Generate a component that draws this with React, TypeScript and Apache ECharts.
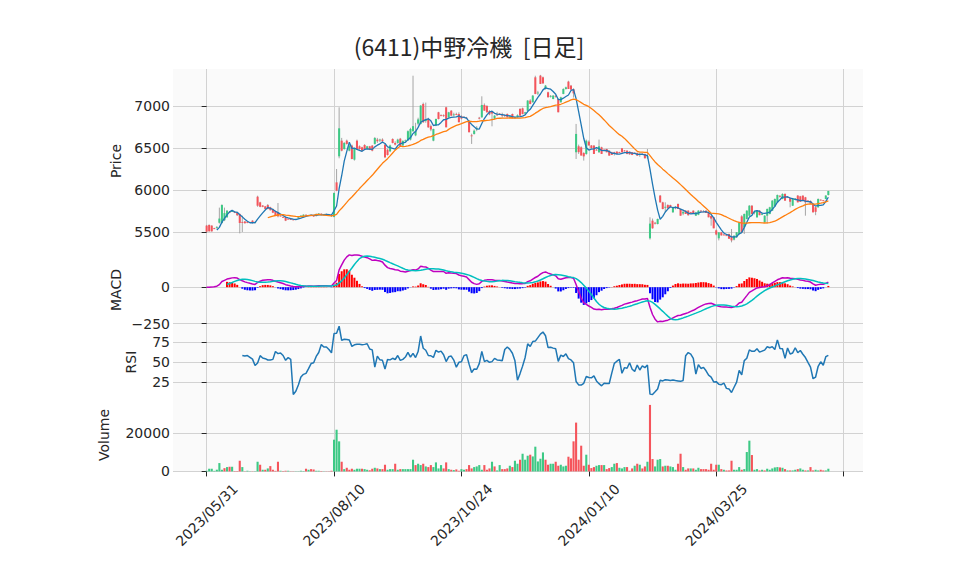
import React, { useEffect, useRef } from 'react';
import * as echarts from 'echarts';

const OPEN = [
  5576,5584,5576,5545,5550,5610,5607,5640,5675,5740,
  5745,5740,5730,5714,5620,5625,5620,5618,5635,5612,
  5920,5853,5815,5805,5821,5794,5774,5750,5734,5695,
  5680,5675,5658,5655,5650,5650,5665,5690,5675,5705,
  5700,5700,5695,5690,5712,5718,5700,5712,5705,5700,
  5680,6091,6401,6587,6488,6587,6468,6528,6361,6587,
  6520,6508,6536,6488,6520,6528,6548,6600,6590,6600,
  6540,6480,6460,6607,6560,6560,6610,6530,6585,6590,
  6600,6700,6650,6790,6786,7024,6820,6845,6760,6587,
  6766,6925,6890,6890,6984,6865,6944,6890,6905,6905,
  6880,6870,6860,6825,6650,6667,6720,6860,6865,7012,
  7000,6940,6930,6850,6900,6910,6900,6890,6905,6870,
  6905,6860,6870,6964,6972,6910,6944,7064,7044,7341,
  7150,7361,7341,7202,7163,7110,7083,7120,7083,7044,
  7143,7202,7290,7242,7200,6449,6520,6508,6440,6429,
  6575,6530,6528,6480,6450,6508,6480,6488,6468,6449,
  6449,6457,6452,6496,6470,6468,6457,6449,6444,6441,
  6420,6432,6429,6390,5425,5635,5610,5595,5933,5853,
  5790,5821,5821,5734,5790,5833,5774,5720,5754,5754,
  5736,5754,5694,5705,5754,5745,5754,5742,5690,5675,
  5520,5425,5496,5470,5462,5476,5440,5409,5437,5476,
  5686,5556,5655,5694,5813,5730,5675,5754,5710,5615,
  5694,5714,5754,5806,5853,5930,5893,5953,5915,5900,
  5813,5895,5933,5925,5933,5913,5875,5870,5833,5794,
  5794,5885,5878,5893,5940,
];
const HIGH = [
  5585,5590,5580,5550,5570,5790,5830,5790,5760,5750,
  5760,5745,5740,5720,5694,5630,5625,5622,5640,5625,
  5932,5860,5820,5810,5833,5800,5780,5755,5845,5700,
  5685,5680,5660,5660,5655,5660,5680,5700,5710,5710,
  5705,5710,5700,5720,5725,5722,5715,5720,5710,5705,
  5970,6250,6984,6620,6570,6600,6535,6540,6500,6600,
  6530,6515,6545,6525,6525,6535,6630,6620,6610,6615,
  6550,6490,6540,6615,6580,6610,6620,6590,6600,6710,
  6740,7360,6800,6860,7010,7040,7040,6860,6780,6730,
  6850,6930,6900,6900,6990,6930,6950,6920,6920,6925,
  6890,6880,6870,6830,6670,6720,6760,6870,7115,7030,
  7010,6950,6940,6890,6930,6915,6920,6900,6910,6890,
  6910,6870,6900,6975,6980,6930,7070,7080,7130,7360,
  7180,7370,7350,7250,7170,7130,7130,7130,7090,7110,
  7210,7230,7300,7250,7210,6786,6540,6520,6450,6600,
  6590,6535,6535,6490,6600,6515,6485,6490,6470,6455,
  6455,6460,6455,6500,6475,6472,6460,6452,6446,6445,
  6440,6435,6432,6488,5675,5660,5620,5660,5941,5860,
  5853,5830,5825,5800,5810,5840,5780,5760,5760,5760,
  5740,5758,5740,5760,5760,5760,5758,5745,5700,5680,
  5530,5500,5500,5475,5466,5480,5536,5460,5500,5620,
  5700,5720,5760,5820,5820,5750,5760,5758,5730,5700,
  5780,5800,5880,5900,5945,5940,5960,5960,5918,5913,
  5900,5905,5940,5930,5935,5918,5878,5875,5840,5800,
  5900,5888,5880,5940,5990,
];
const LOW = [
  5500,5505,5505,5535,5540,5600,5600,5630,5670,5725,
  5740,5725,5690,5484,5500,5600,5605,5610,5600,5600,
  5800,5795,5795,5770,5770,5755,5725,5695,5675,5685,
  5670,5630,5650,5645,5640,5645,5660,5685,5670,5695,
  5690,5690,5680,5685,5700,5700,5695,5700,5690,5680,
  5675,5985,6377,6460,6480,6540,6460,6365,6350,6480,
  6480,6460,6475,6485,6475,6460,6540,6560,6570,6570,
  6380,6410,6450,6555,6530,6550,6515,6525,6570,6585,
  6590,6690,6640,6770,6780,6800,6800,6740,6700,6580,
  6760,6840,6880,6870,6746,6860,6880,6875,6890,6806,
  6840,6860,6850,6687,6548,6660,6700,6840,6860,6944,
  6920,6890,6758,6840,6880,6900,6860,6870,6865,6860,
  6855,6850,6860,6880,6900,6900,6940,7020,7040,7140,
  7130,7262,7262,7195,7103,7100,7080,7100,6925,7040,
  7140,7195,7202,7194,7100,6369,6429,6410,6350,6420,
  6530,6490,6429,6470,6440,6429,6470,6449,6409,6417,
  6410,6429,6440,6445,6460,6425,6420,6415,6435,6405,
  6395,6425,6377,6370,5410,5540,5590,5590,5850,5770,
  5734,5780,5790,5730,5770,5774,5694,5700,5714,5694,
  5728,5714,5690,5700,5740,5740,5726,5675,5575,5544,
  5460,5400,5456,5462,5455,5417,5377,5400,5430,5470,
  5490,5476,5650,5690,5714,5710,5670,5700,5700,5610,
  5600,5710,5750,5800,5850,5910,5890,5873,5908,5794,
  5810,5885,5853,5860,5873,5694,5870,5835,5734,5700,
  5790,5875,5870,5890,5935,
];
const CLOSE = [
  5504,5508,5508,5540,5560,5660,5821,5725,5754,5735,
  5750,5735,5700,5607,5610,5605,5615,5615,5607,5620,
  5813,5800,5800,5774,5774,5760,5730,5700,5687,5687,
  5675,5635,5655,5650,5647,5655,5675,5695,5706,5700,
  5700,5695,5685,5715,5720,5705,5710,5705,5695,5690,
  5964,5992,6734,6468,6560,6548,6528,6369,6488,6488,
  6488,6468,6480,6520,6480,6468,6619,6580,6600,6580,
  6389,6417,6530,6560,6540,6600,6520,6585,6590,6700,
  6726,6760,6700,6840,7004,6806,6840,6746,6720,6726,
  6845,6845,6885,6880,6746,6925,6885,6900,6895,6806,
  6850,6865,6855,6687,6645,6706,6740,6850,7012,6944,
  6925,6900,6910,6885,6895,6905,6885,6880,6865,6875,
  6855,6865,6890,6885,6905,6925,7064,7024,7123,7143,
  7160,7262,7270,7242,7103,7120,7123,7110,6925,7103,
  7202,7222,7202,7194,7150,6667,6450,6410,6400,6587,
  6530,6500,6429,6480,6520,6429,6480,6449,6409,6417,
  6430,6429,6449,6449,6468,6429,6425,6417,6441,6409,
  6430,6429,6377,6400,5600,5544,5607,5655,5853,5774,
  5800,5782,5794,5794,5800,5774,5694,5740,5714,5700,
  5734,5714,5734,5754,5750,5742,5726,5675,5660,5544,
  5470,5496,5460,5468,5458,5420,5400,5456,5496,5615,
  5496,5714,5754,5813,5714,5740,5754,5700,5715,5694,
  5774,5794,5873,5893,5941,5920,5953,5873,5911,5860,
  5893,5898,5853,5860,5873,5853,5873,5840,5734,5740,
  5893,5880,5873,5933,5988,
];
const VOLUME = [
  350,1400,1400,300,900,4350,870,1700,2260,2430,
  2430,200,200,5560,2260,100,350,100,100,100,
  5040,3480,870,870,1560,2780,870,300,5040,350,
  200,350,350,100,100,100,100,350,200,1400,
  870,1200,1000,350,350,200,100,100,100,350,
  16500,21700,15650,5040,1200,1900,870,1400,870,1400,
  1400,1400,1200,870,600,1400,1900,1560,1200,1200,
  3480,870,1200,1200,4000,870,1200,1200,1200,1200,
  1200,6090,3300,4000,3300,4000,2600,2260,3300,2260,
  4700,1560,3300,1560,4700,1200,870,700,1050,350,
  1200,870,1200,3300,1560,2260,2600,3300,870,3300,
  870,1560,5040,2600,520,3300,1200,1200,1560,2960,
  2260,5560,4000,6090,9200,6090,8170,8700,7800,12870,
  5200,6600,9900,6090,3480,4000,4000,5040,2960,3480,
  2600,2960,7650,6780,15650,25400,6090,13390,2960,8700,
  3480,1740,2260,2960,3300,3300,3300,1200,1740,2260,
  4000,4350,1900,1560,2260,2260,350,1560,2960,4000,
  3480,1560,2600,5040,34600,6430,2600,6090,6430,2600,
  2960,2960,2600,2260,870,4000,9200,2260,870,1560,
  1560,1560,870,1900,1200,1200,1200,870,4000,870,
  3480,3480,1200,870,520,520,5560,870,870,2260,
  870,1200,10090,16000,8520,870,1200,520,870,520,
  1400,870,1560,2090,2260,2090,1900,1200,520,520,
  520,870,1200,1560,870,520,520,2260,520,870,
  520,870,520,520,1400,
];

const TICK_INDEX = [0, 50, 100, 150, 200, 250];
const TICK_LABELS = ['2023/05/31', '2023/08/10', '2023/10/24', '2024/01/10', '2024/03/25', ''];
const PRICE_TICKS = [5500, 6000, 6500, 7000];
const MACD_TICKS = [-250, 0];
const RSI_TICKS = [25, 50, 75];
const VOLUME_TICKS = [0, 20000];
const TITLE = '(6411)中野冷機  [日足]';

const X_MIN = -13.2;
const X_MAX = 257.6;
const UP_COLOR = '#3dc985';
const DOWN_COLOR = '#f5545b';
const WICK_COLOR = '#9c9c9c';
const GRID_COLOR = '#d2d2d2';
const PANEL_BG = '#fafafa';
const TEXT_COLOR = '#262626';
const FONT = "'DejaVu Sans', sans-serif";
const FONT_SIZE = 14;

const mean = (a: number[]) => a.reduce((s, v) => s + v, 0) / a.length;
function movingAverage(src: number[], n: number): (number | null)[] {
  return src.map((_, i) => (i < n - 1 ? null : mean(src.slice(i - n + 1, i + 1))));
}
function emaOf(src: number[], span: number): number[] {
  const a = 2 / (span + 1);
  const out: number[] = [];
  src.forEach((v, i) => out.push(i === 0 ? v : a * v + (1 - a) * out[i - 1]));
  return out;
}
function rsiOf(src: number[], n: number): (number | null)[] {
  return src.map((_, i) => {
    if (i < n) return null;
    let g = 0;
    let l = 0;
    for (let k = i - n + 1; k <= i; k++) {
      const d = src[k] - src[k - 1];
      if (d > 0) g += d;
      else l -= d;
    }
    if (l === 0) return 100;
    return 100 - 100 / (1 + g / l);
  });
}
const pairs = (arr: (number | null)[]) =>
  arr.map((v, i) => (v == null ? null : [i, v])).filter((p) => p !== null);

export default function App() {
  const ref = useRef<HTMLDivElement>(null);

  useEffect(() => {
    if (!ref.current) return;
    const chart = echarts.init(ref.current, null, { renderer: 'svg' });

    const ma5 = movingAverage(CLOSE, 5);
    const ma25 = movingAverage(CLOSE, 25);
    const ema12 = emaOf(CLOSE, 12);
    const ema26 = emaOf(CLOSE, 26);
    const macd = ema12.map((v, i) => v - ema26[i]);
    const signal = macd.map((_, i) => (i < 8 ? null : mean(macd.slice(i - 8, i + 1))));
    const hist = macd.map((v, i) => (signal[i] == null ? null : v - (signal[i] as number)));
    const rsi = rsiOf(CLOSE, 14);

    const grids = [
      { top: 69, height: 183 },
      { top: 252, height: 72 },
      { top: 324, height: 74 },
      { top: 398, height: 74 },
    ].map((g) => ({
      ...g,
      left: 173,
      right: 95,
      show: true,
      backgroundColor: PANEL_BG,
      borderWidth: 0,
      containLabel: false,
    }));

    const xAxes = [0, 1, 2, 3].map((k) => ({
      type: 'value',
      gridIndex: k,
      min: X_MIN,
      max: X_MAX,
      axisLine: { show: false },
      axisTick: {
        show: k === 3,
        customValues: TICK_INDEX,
        length: 5,
        lineStyle: { color: TEXT_COLOR, width: 1 },
      },
      axisLabel: {
        show: k === 3,
        customValues: TICK_INDEX,
        formatter: (v: number) => {
          const j = TICK_INDEX.indexOf(Math.round(v));
          return j >= 0 ? TICK_LABELS[j] : '';
        },
        rotate: 45,
        align: 'center',
        verticalAlign: 'middle',
        margin: 43,
        fontFamily: FONT,
        fontSize: FONT_SIZE,
        color: TEXT_COLOR,
      },
      splitLine: { show: true, lineStyle: { color: GRID_COLOR, width: 1 } },
    }));

    const yDefs = [
      { min: 5262, max: 7440, ticks: PRICE_TICKS, fmt: (v: number) => String(v) },
      { min: -253, max: 242, ticks: MACD_TICKS, fmt: (v: number) => (v < 0 ? '\u2212' + Math.abs(v) : String(v)) },
      { min: 5.4, max: 97.9, ticks: RSI_TICKS, fmt: (v: number) => String(v) },
      { min: -300, max: 38200, ticks: VOLUME_TICKS, fmt: (v: number) => String(v) },
    ];
    const yAxes = yDefs.map((d, k) => ({
      type: 'value',
      gridIndex: k,
      min: d.min,
      max: d.max,
      position: 'left',
      axisLine: { show: false },
      axisTick: { show: true, customValues: d.ticks, length: 5, lineStyle: { color: TEXT_COLOR, width: 1 } },
      axisLabel: {
        customValues: d.ticks,
        formatter: d.fmt,
        margin: 3,
        fontFamily: FONT,
        fontSize: FONT_SIZE,
        color: TEXT_COLOR,
      },
      splitLine: { show: true, lineStyle: { color: GRID_COLOR, width: 1 } },
    }));

    const candleData = OPEN.map((o, i) => [i, o, CLOSE[i], LOW[i], HIGH[i]]);

    const nameText = (text: string, x: number, y: number) => ({
      type: 'text',
      x,
      y,
      rotation: Math.PI / 2,
      style: {
        text,
        fill: TEXT_COLOR,
        fontFamily: FONT,
        fontSize: FONT_SIZE,
        align: 'center',
        verticalAlign: 'middle',
        textAlign: 'center',
        textVerticalAlign: 'middle',
      },
    });

    const option = {
      animation: false,
      backgroundColor: '#ffffff',
      grid: grids,
      xAxis: xAxes,
      yAxis: yAxes,
      graphic: [
        {
          type: 'text',
          x: 469,
          y: 46,
          style: {
            text: TITLE,
            fill: TEXT_COLOR,
            fontFamily: "'Noto Sans CJK JP', sans-serif",
            fontSize: 23,
            align: 'center',
            verticalAlign: 'middle',
            textAlign: 'center',
            textVerticalAlign: 'middle',
          },
        },
        nameText('Price', 116, 161),
        nameText('MACD', 116, 290),
        nameText('RSI', 131, 362),
        nameText('Volume', 104, 435),
      ],
      series: [
        {
          type: 'custom',
          name: 'candles',
          xAxisIndex: 0,
          yAxisIndex: 0,
          data: candleData,
          encode: { x: 0, y: [1, 2, 3, 4] },
          clip: true,
          renderItem: (_params: any, api: any) => {
            const i = api.value(0);
            const o = api.value(1);
            const c = api.value(2);
            const l = api.value(3);
            const h = api.value(4);
            const pO = api.coord([i, o]);
            const pC = api.coord([i, c]);
            const pL = api.coord([i, l]);
            const pH = api.coord([i, h]);
            const w = api.size([0.8, 0])[0];
            const up = c > o;
            const top = Math.min(pO[1], pC[1]);
            const bh = Math.max(Math.abs(pO[1] - pC[1]), 0.9);
            return {
              type: 'group',
              children: [
                {
                  type: 'line',
                  shape: { x1: pH[0], y1: pH[1], x2: pL[0], y2: pL[1] },
                  style: { stroke: WICK_COLOR, lineWidth: 0.9 },
                },
                {
                  type: 'rect',
                  shape: { x: pO[0] - w / 2, y: top, width: w, height: bh },
                  style: { fill: up ? UP_COLOR : DOWN_COLOR },
                },
              ],
            };
          },
        },
        {
          type: 'line',
          name: 'MA5',
          xAxisIndex: 0,
          yAxisIndex: 0,
          data: pairs(ma5),
          showSymbol: false,
          lineStyle: { color: '#1f77b4', width: 1.3 },
          itemStyle: { color: '#1f77b4' },
          z: 3,
        },
        {
          type: 'line',
          name: 'MA25',
          xAxisIndex: 0,
          yAxisIndex: 0,
          data: pairs(ma25),
          showSymbol: false,
          lineStyle: { color: '#ff7f0e', width: 1.3 },
          itemStyle: { color: '#ff7f0e' },
          z: 3,
        },
        {
          type: 'bar',
          name: 'hist',
          xAxisIndex: 1,
          yAxisIndex: 1,
          barWidth: 2,
          data: hist
            .map((v, i) =>
              v == null ? null : { value: [i, v], itemStyle: { color: v >= 0 ? '#ff0000' : '#0000ff' } }
            )
            .filter((d) => d !== null),
        },
        {
          type: 'line',
          name: 'MACD',
          xAxisIndex: 1,
          yAxisIndex: 1,
          data: pairs(macd),
          showSymbol: false,
          lineStyle: { color: '#bf00bf', width: 1.5 },
          itemStyle: { color: '#bf00bf' },
        },
        {
          type: 'line',
          name: 'Signal',
          xAxisIndex: 1,
          yAxisIndex: 1,
          data: pairs(signal),
          showSymbol: false,
          lineStyle: { color: '#00bfbf', width: 1.5 },
          itemStyle: { color: '#00bfbf' },
        },
        {
          type: 'line',
          name: 'RSI',
          xAxisIndex: 2,
          yAxisIndex: 2,
          data: pairs(rsi),
          showSymbol: false,
          lineStyle: { color: '#1f77b4', width: 1.5 },
          itemStyle: { color: '#1f77b4' },
        },
        {
          type: 'bar',
          name: 'Volume',
          xAxisIndex: 3,
          yAxisIndex: 3,
          barWidth: 2.1,
          data: VOLUME.map((v, i) => ({
            value: [i, v],
            itemStyle: { color: i > 0 && CLOSE[i] < CLOSE[i - 1] ? DOWN_COLOR : UP_COLOR },
          })),
        },
      ],
    };

    chart.setOption(option as any);
    return () => chart.dispose();
  }, []);

  return (
    <div
      ref={ref}
      style={{ position: 'absolute', left: 0, top: 0, width: 958, height: 575, background: '#ffffff' }}
    />
  );
}
